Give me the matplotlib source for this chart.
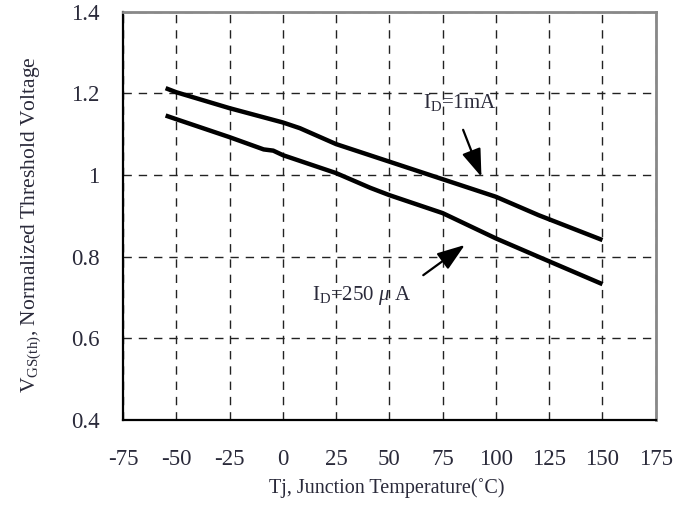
#!/usr/bin/env python3
"""Normalized threshold voltage vs junction temperature."""

import matplotlib
matplotlib.use("Agg")
import matplotlib.pyplot as plt

# upper curve, ID = 1 mA
temp_1ma = [-55, -50, -25, 0, 8, 25, 50, 75, 100, 120, 150]
vth_1ma = [1.213, 1.203, 1.164, 1.129, 1.115, 1.076, 1.033, 0.990, 0.947, 0.902, 0.841]

# lower curve, ID = 250 uA
temp_250ua = [-55, -50, -25, -9, -4.5, 0, 25, 41, 50, 75, 100, 120, 150]
vth_250ua = [1.146, 1.137, 1.093, 1.063, 1.060, 1.049, 1.005, 0.969, 0.951, 0.907, 0.845, 0.800, 0.733]

xticks = [-75, -50, -25, 0, 25, 50, 75, 100, 125, 150, 175]
yticks = [0.4, 0.6, 0.8, 1.0, 1.2, 1.4]
ytick_labels = ["0.4", "0.6", "0.8", "1", "1.2", "1.4"]

plt.rcParams["font.family"] = ["Liberation Serif", "DejaVu Serif"]
plt.rcParams["mathtext.fontset"] = "custom"
plt.rcParams["mathtext.rm"] = "Liberation Serif"
plt.rcParams["mathtext.it"] = "Liberation Serif:italic"
plt.rcParams["axes.unicode_minus"] = False

text_color = "#2a2a3a"

fig = plt.figure(figsize=(6.91, 5.13), dpi=100)
ax = fig.add_axes([0.178, 0.181, 0.771, 0.796])

ax.plot(temp_1ma, vth_1ma, color="black", lw=3.2, solid_capstyle="butt")
ax.plot(temp_250ua, vth_250ua, color="black", lw=3.2, solid_capstyle="butt")

ax.set_xlim(-75, 175)
ax.set_ylim(0.4, 1.4)
ax.set_xticks(xticks)
ax.set_yticks(yticks)
ax.set_yticklabels(ytick_labels)
ax.tick_params(length=0, labelsize=16.5, labelcolor=text_color)
ax.tick_params(axis="y", pad=17)
ax.tick_params(axis="x", pad=21)

ax.grid(True, color="#222222", lw=1.0, linestyle=(0, (6, 5)))
ax.set_axisbelow(True)

ax.spines["left"].set_linewidth(1.6)
ax.spines["bottom"].set_linewidth(1.6)
ax.spines["top"].set_color("#888888")
ax.spines["right"].set_color("#888888")
ax.spines["top"].set_linewidth(2.0)
ax.spines["right"].set_linewidth(2.0)

ax.set_xlabel("Tj, Junction Temperature(˚C)", fontsize=14.5, color=text_color)
ax.xaxis.set_label_coords(0.496, -0.142)
ax.set_ylabel(r"V$_\mathrm{GS(th)}$, Normalized Threshold Voltage", fontsize=15.5,
              color=text_color)
ax.yaxis.set_label_coords(-0.151, 0.48)

arrow = dict(arrowstyle="-|>,head_width=0.6,head_length=1.7", color="black", lw=1.6,
             shrinkA=0, shrinkB=0)
ax.annotate("", xy=(93.2, 0.996), xytext=(84.6, 1.111), arrowprops=arrow)
ax.annotate("", xy=(85.4, 0.829), xytext=(65.9, 0.755), arrowprops=arrow)

ax.text(65.6, 1.179, r"I$_\mathrm{D}$=1mA", fontsize=15, color=text_color, va="center")
ax.text(13.5, 0.706, r"I$_\mathrm{D}$=250 $\mathit{\mu}$ A", fontsize=15,
        color=text_color, va="center")

fig.savefig("out.png", dpi=100)
